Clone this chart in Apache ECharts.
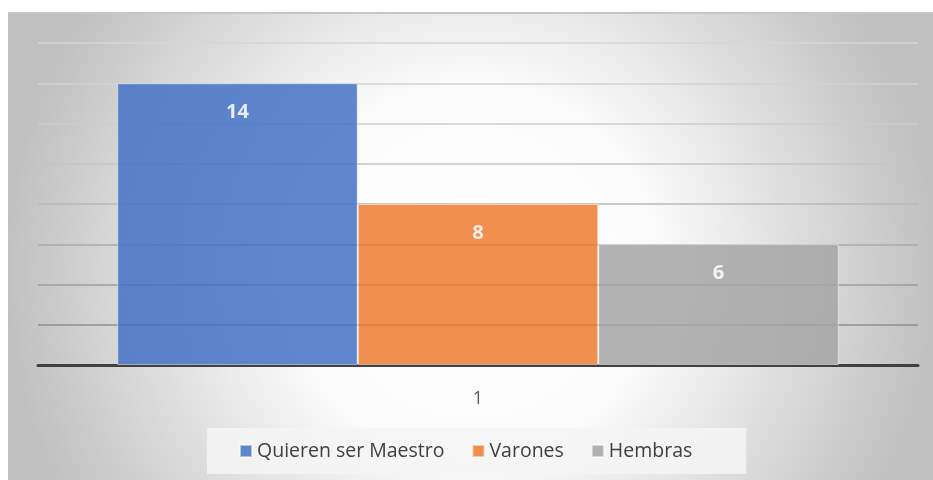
<!DOCTYPE html>
<html>
<head>
<meta charset="utf-8">
<script src="https://cdn.jsdelivr.net/npm/echarts@6/dist/echarts.min.js"></script>
<style>
  html, body { margin: 0; padding: 0; background: #fff; }
  #chart {
    position: absolute;
    left: 8px;
    top: 12px;
    width: 925px;
    height: 468px;
    border-top: 2px solid #c6c6c6;
    box-sizing: border-box;
  }
</style>
</head>
<body>
<div id="chart"></div>
<script>
// datos
const categories = ['1']
const seriesNames = ['Quieren ser Maestro', 'Varones', 'Hembras']
const seriesValues = [[14], [8], [6]]
const yMin = 0
const yMax = 16
const yInterval = 2

// colores
const colors = ['#4472C4', '#ED7D31', '#A5A5A5']
const gridColors = ['#7f7f7f', '#8e8e8e', '#9d9d9d', '#aaaaaa', '#b8b8b8', '#c4c4c4', '#cccccc', '#d2d2d2', '#d6d6d6']

const chart = echarts.init(document.getElementById('chart'))

const series = seriesNames.map((name, i) => ({
  name,
  type: 'bar',
  data: seriesValues[i],
  barGap: 0,
  barCategoryGap: '18%',
  itemStyle: {
    color: colors[i],
    opacity: 0.85,
    borderColor: 'rgba(255,255,255,0.6)',
    borderWidth: 1,
  },
  label: {
    show: true,
    position: 'insideTop',
    distance: 19,
    color: '#fff',
    fontSize: 20,
    fontWeight: 'bold',
    fontFamily: 'Open Sans',
  },
}))

chart.setOption({
  backgroundColor: {
    type: 'radial',
    x: 0.5,
    y: 0.55,
    r: 1.0,
    colorStops: [
      { offset: 0, color: '#ffffff' },
      { offset: 0.4, color: '#fbfbfb' },
      { offset: 1, color: '#c0c0c0' },
    ],
  },
  animation: false,
  grid: {
    left: 30,
    right: 15,
    top: 29,
    bottom: 115,
  },
  legend: {
    data: seriesNames,
    left: 199,
    bottom: 6,
    backgroundColor: 'rgba(245,245,245,0.85)',
    padding: [13, 54, 13, 32],
    itemWidth: 12,
    itemHeight: 12,
    itemGap: 27,
    icon: 'rect',
    textStyle: {
      fontSize: 19.5,
      color: '#404040',
      fontFamily: 'Open Sans',
    },
  },
  xAxis: {
    type: 'category',
    data: categories,
    axisLine: { lineStyle: { color: '#404040', width: 3 } },
    axisTick: { show: false },
    axisLabel: {
      margin: 25,
      fontSize: 18,
      color: '#595959',
      fontFamily: 'Open Sans',
    },
  },
  yAxis: {
    type: 'value',
    min: yMin,
    max: yMax,
    interval: yInterval,
    axisLabel: { show: false },
    axisLine: { show: false },
    axisTick: { show: false },
    splitLine: {
      lineStyle: { color: gridColors, width: 1.5 },
    },
  },
  series,
})
</script>
</body>
</html>
